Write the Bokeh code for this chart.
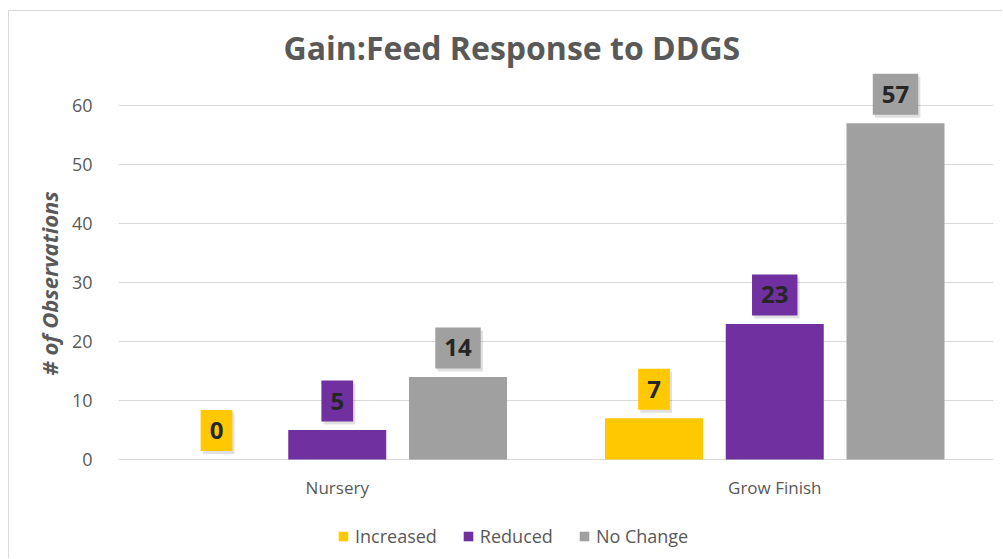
from bokeh.plotting import figure
from bokeh.models import ColumnDataSource, FactorRange, Range1d, FixedTicker, Legend, LegendItem, Title
from bokeh.transform import dodge
from bokeh.core.properties import value
from bokeh.embed import file_html
from bokeh.resources import INLINE

categories = ["Nursery", "Grow Finish"]
series = ["Increased", "Reduced", "No Change"]
increased = [0, 7]
reduced = [5, 23]
no_change = [14, 57]
colors = ["#FFC800", "#7030A0", "#A0A0A0"]
y_ticks = [0, 10, 20, 30, 40, 50, 60]

FONT = "Open Sans"
TXT = "#595959"

src = ColumnDataSource(dict(
    cat=categories,
    zero=[0] * len(categories),
    inc=increased, red=reduced, nc=no_change,
    inc_s=[str(v) for v in increased],
    red_s=[str(v) for v in reduced],
    nc_s=[str(v) for v in no_change],
))

p = figure(x_range=FactorRange(*categories, range_padding=0),
           y_range=Range1d(-16.95, 66.3), x_axis_location=None,
           width=994, height=548, output_backend="svg", toolbar_location=None,
           min_border_left=109, min_border_right=10, min_border_top=57, min_border_bottom=0)
p.styles = {"border-left": "1px solid #D9D9D9", "border-top": "1px solid #D9D9D9",
            "margin-left": "8px", "margin-top": "10px"}

p.outline_line_color = None
p.title.text = "Gain:Feed Response to DDGS"
p.title.align = "left"
p.title.offset = 165
p.title.text_font = FONT
p.title.text_font_style = "bold"
p.title.text_font_size = "32px"
p.title.text_color = TXT
p.title.standoff = 0

offsets = [-0.276, 0.0, 0.276]
fields = ["inc", "red", "nc"]
renderers = []
for f, off, c in zip(fields, offsets, colors):
    r = p.vbar(x=dodge("cat", off, range=p.x_range), top=f, width=0.224, bottom=0,
               source=src, fill_color=c, line_color=None)
    renderers.append(r)
    # soft shadow of label box
    p.text(x=dodge("cat", off + 0.005, range=p.x_range), y=f, text=f + "_s", source=src,
           text_align="center", text_baseline="middle", y_offset=-26,
           text_font=value(FONT), text_font_style="bold", text_font_size="24px",
           text_alpha=0, background_fill_color="#000000", background_fill_alpha=0.12,
           padding=(9, 12))
    p.text(x=dodge("cat", off, range=p.x_range), y=f, text=f + "_s", source=src,
           text_align="center", text_baseline="middle", y_offset=-29,
           text_font=value(FONT), text_font_style="bold", text_font_size="24px",
           text_color="#262626", background_fill_color=c,
           padding=(9, 12))

# category labels (x-axis replacement)
p.text(x="cat", y="zero", text="cat", source=src, text_align="center", text_baseline="middle",
       y_offset=28, text_font=value(FONT), text_font_size="17px", text_color=TXT)

p.xgrid.grid_line_color = None
p.ygrid.grid_line_color = "#D9D9D9"
p.ygrid.grid_line_width = 1
p.yaxis.ticker = FixedTicker(ticks=y_ticks)
p.yaxis.axis_line_color = None
p.yaxis.major_tick_line_color = None
p.yaxis.minor_tick_line_color = None
p.yaxis.major_label_text_font = FONT
p.yaxis.major_label_text_font_size = "18px"
p.yaxis.major_label_text_color = TXT
p.yaxis.major_label_standoff = 20

ylab = Title(text="# of Observations", align="left", offset=184, standoff=9,
             text_font=FONT, text_font_style="bold italic", text_font_size="22px",
             text_color=TXT)
p.add_layout(ylab, "left")

legend = Legend(items=[LegendItem(label=s, renderers=[r]) for s, r in zip(series, renderers)],
                orientation="horizontal", location=(219, 11), padding=4, margin=0,
                label_text_font=FONT, label_text_font_size="18px", label_text_color=TXT,
                glyph_width=12, glyph_height=12, spacing=25, label_standoff=6,
                border_line_color=None, background_fill_alpha=0)
p.add_layout(legend, "center")

open("out.html", "w").write(file_html(p, INLINE))
